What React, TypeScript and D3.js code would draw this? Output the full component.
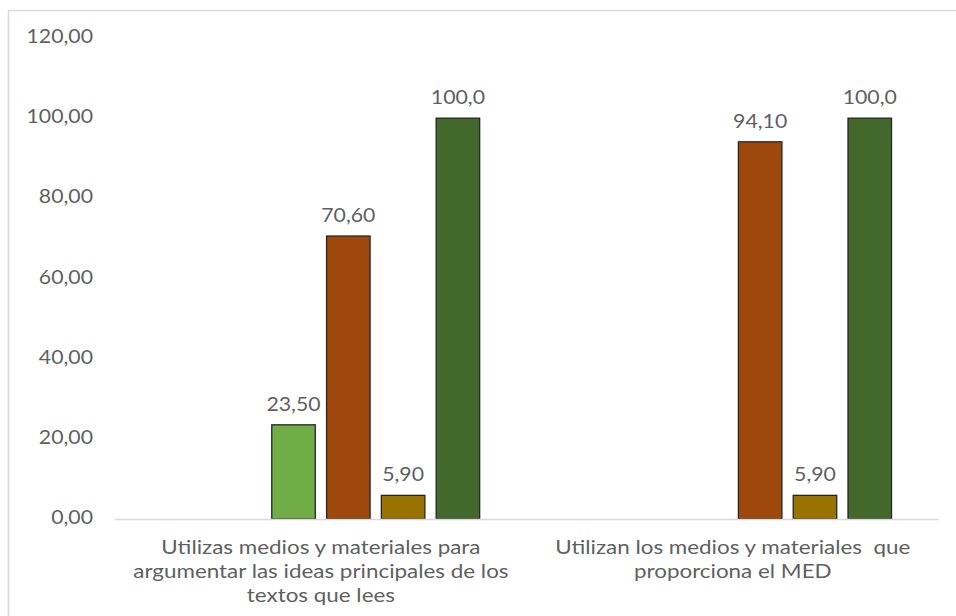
import React from "react";
import * as d3 from "d3";

const categories: string[][] = [
  ["Utilizas medios y materiales para", "argumentar las ideas principales de los", "textos que lees"],
  ["Utilizan los medios y materiales  que", "proporciona el MED"],
];
const seriesNames = ["Serie 1", "Serie 2", "Serie 3", "Serie 4", "Serie 5", "Serie 6"];
const seriesColors = ["#5B9BD5", "#ED7D31", "#70AD47", "#9E480E", "#997300", "#43682B"];
// values[series][category]
const values: (number | null)[][] = [
  [null, null],
  [null, null],
  [23.5, null],
  [70.6, 94.1],
  [5.9, 5.9],
  [100.0, 100.0],
];
const valueLabels: (string | null)[][] = [
  [null, null],
  [null, null],
  ["23,50", null],
  ["70,60", "94,10"],
  ["5,90", "5,90"],
  ["100,0", "100,0"],
];
const yTicks = [0, 20, 40, 60, 80, 100, 120];
const yTickLabels = ["0,00", "20,00", "40,00", "60,00", "80,00", "100,00", "120,00"];

const W = 956;
const H = 616;
const FONT = "Lato, 'Open Sans', sans-serif";
const TEXT = "#5f5f5f";

export default function App() {
  const catIdx = categories.map((_, i) => String(i));
  const x0 = d3.scaleBand<string>().domain(catIdx).range([115, 938.7]).paddingInner(0).paddingOuter(0);
  const sIdx = seriesNames.map((_, i) => String(i));
  const x1 = d3
    .scaleBand<string>()
    .domain(sIdx)
    .range([0, x0.bandwidth()])
    .paddingInner(0.206)
    .paddingOuter(0.861);
  const y = d3.scaleLinear().domain([0, 120]).range([519, 38]);

  const txt = (x: number, yy: number, s: string, anchor: string, key: string, sx = 1.12) => (
    <text
      key={key}
      transform={`translate(${x},${yy}) scale(${sx},1)`}
      textAnchor={anchor}
      fontFamily={FONT}
      fontSize={19}
      fill={TEXT}
      style={{ whiteSpace: "pre" }}
    >
      {s}
    </text>
  );

  return (
    <svg width={W} height={H} style={{ position: "absolute", left: 0, top: 0, background: "#fff" }}>
      <rect x={0} y={0} width={W} height={H} fill="#fff" />
      {/* chart frame */}
      <line x1={8} y1={10.5} x2={W} y2={10.5} stroke="#d9d9d9" strokeWidth={1.5} />
      <line x1={8.5} y1={10} x2={8.5} y2={H} stroke="#d9d9d9" strokeWidth={1.5} />

      {/* y tick labels */}
      {yTicks.map((t, i) => txt(93, y(t) + 5, yTickLabels[i], "end", `yt${i}`))}

      {/* bars */}
      {values.map((row, s) =>
        row.map((v, c) => {
          if (v == null) return null;
          const bx = (x0(String(c)) ?? 0) + (x1(String(s)) ?? 0);
          return (
            <rect
              key={`b${s}-${c}`}
              x={bx}
              y={y(v)}
              width={x1.bandwidth()}
              height={y(0) - y(v)}
              fill={seriesColors[s]}
              stroke="#262626"
              strokeWidth={1.3}
            />
          );
        })
      )}

      {/* axis line */}
      <line x1={x0.range()[0]} x2={x0.range()[1]} y1={y(0) + 0.5} y2={y(0) + 0.5} stroke="#d9d9d9" strokeWidth={1.5} />

      {/* value labels */}
      {values.map((row, s) =>
        row.map((v, c) => {
          const lab = valueLabels[s][c];
          if (v == null || lab == null) return null;
          const cx = (x0(String(c)) ?? 0) + (x1(String(s)) ?? 0) + x1.bandwidth() / 2;
          return txt(cx, y(v) - 14, lab, "middle", `l${s}-${c}`);
        })
      )}

      {/* category labels */}
      {categories.map((lines, c) => {
        const cx = (x0(String(c)) ?? 0) + x0.bandwidth() / 2;
        return lines.map((ln, k) => txt(cx, 554 + k * 24, ln, "middle", `c${c}-${k}`, 1.18));
      })}
    </svg>
  );
}
